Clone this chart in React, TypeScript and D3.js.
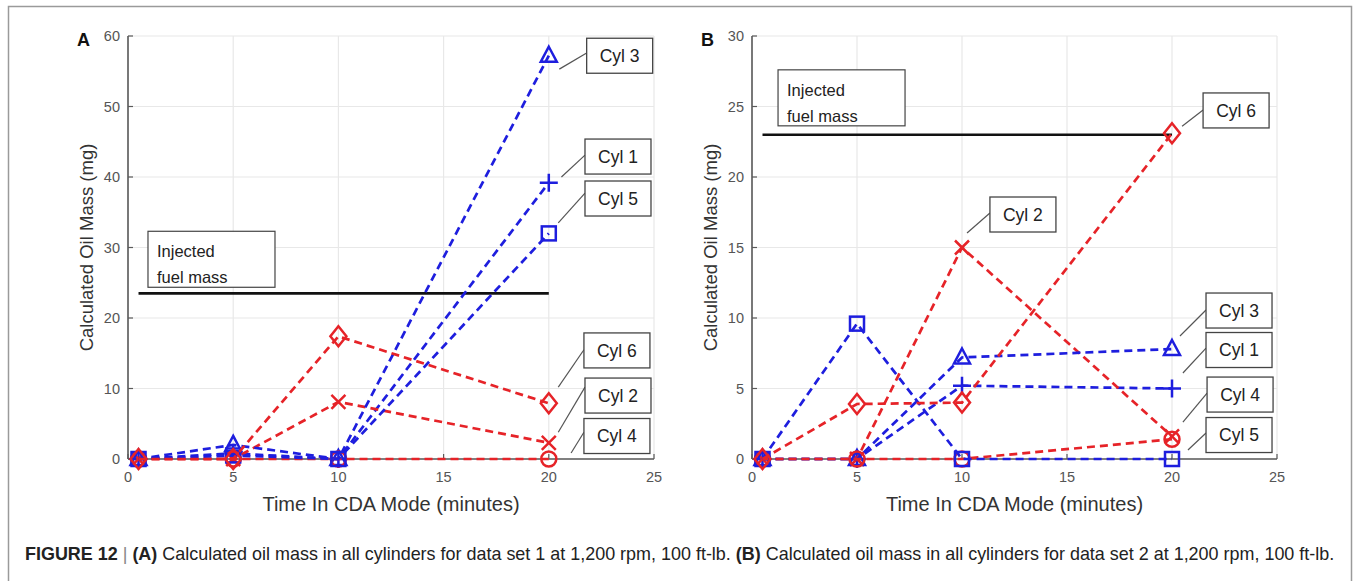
import React, { useLayoutEffect, useRef, useState } from 'react';
import * as d3 from 'd3';

// ---------- data ----------
const times = [0.5, 5, 10, 20];
const cylNames = ['Cyl 1', 'Cyl 2', 'Cyl 3', 'Cyl 4', 'Cyl 5', 'Cyl 6'];

// Data set 1 (panel A)
const setA_cyl1 = [0, 0.8, 0, 39.2];
const setA_cyl2 = [0, 0, 8.1, 2.3];
const setA_cyl3 = [0, 2.0, 0, 57.2];
const setA_cyl4 = [0, 0, 0, 0];
const setA_cyl5 = [0, 0.5, 0, 32.0];
const setA_cyl6 = [0, 0, 17.4, 7.9];

// Data set 2 (panel B)
const setB_cyl1 = [0, 0, 5.2, 5.0];
const setB_cyl2 = [0, 0, 15.0, 1.6];
const setB_cyl3 = [0, 0, 7.2, 7.8];
const setB_cyl4 = [0, 0, 0, 1.4];
const setB_cyl5 = [0, 9.6, 0, 0];
const setB_cyl6 = [0, 3.9, 4.0, 23.1];

const injectedA = 23.5;
const injectedB = 23.0;

const xTicks = [0, 5, 10, 15, 20, 25];
const yTicksA = [0, 10, 20, 30, 40, 50, 60];
const yTicksB = [0, 5, 10, 15, 20, 25, 30];

const xLabel = 'Time In CDA Mode (minutes)';
const yLabel = 'Calculated Oil Mass (mg)';

// ---------- styles ----------
const BLUE = '#1e1ede';
const RED = '#e62328';
const markerOf = ['plus', 'x', 'triangle', 'circle', 'square', 'diamond'];
const colorOf = [BLUE, RED, BLUE, RED, BLUE, RED];

// annotation placement (data units): box left x, box centre y, leader start (x,y), leader end y at box left
const labelsA = [
  { name: 'Cyl 3', bx: 21.8, by: 57.2, lx: 20.5, ly: 55.3, ey: 57.6 },
  { name: 'Cyl 1', bx: 21.72, by: 42.9, lx: 20.6, ly: 40.0, ey: 43.1 },
  { name: 'Cyl 5', bx: 21.72, by: 36.95, lx: 20.45, ly: 33.5, ey: 37.7 },
  { name: 'Cyl 6', bx: 21.67, by: 15.4, lx: 20.45, ly: 10.2, ey: 15.5 },
  { name: 'Cyl 2', bx: 21.72, by: 9.0, lx: 20.45, ly: 3.8, ey: 10.2 },
  { name: 'Cyl 4', bx: 21.67, by: 3.26, lx: 21.06, ly: 0.85, ey: 3.8 },
];
const labelsB = [
  { name: 'Cyl 6', bx: 21.48, by: 24.72, lx: 20.48, ly: 23.6, ey: 24.75 },
  { name: 'Cyl 2', bx: 11.33, by: 17.34, lx: 10.24, ly: 16.03, ey: 17.45 },
  { name: 'Cyl 3', bx: 21.62, by: 10.53, lx: 20.38, ly: 8.72, ey: 10.57 },
  { name: 'Cyl 1', bx: 21.62, by: 7.73, lx: 20.52, ly: 6.1, ey: 7.87 },
  { name: 'Cyl 4', bx: 21.67, by: 4.57, lx: 20.52, ly: 2.62, ey: 4.68 },
  { name: 'Cyl 5', bx: 21.62, by: 1.7, lx: 20.76, ly: 0.64, ey: 1.84 },
];

const FONT = "'Liberation Sans', Arial, Helvetica, sans-serif";

function Marker({ type, cx, cy, color }: { type: string; cx: number; cy: number; color: string }) {
  const sw = 2.5;
  const common = { fill: 'none', stroke: color, strokeWidth: sw };
  switch (type) {
    case 'plus':
      return <path d={`M${cx - 9},${cy}H${cx + 9}M${cx},${cy - 9}V${cy + 9}`} {...common} />;
    case 'x':
      return <path d={`M${cx - 7},${cy - 7}L${cx + 7},${cy + 7}M${cx - 7},${cy + 7}L${cx + 7},${cy - 7}`} {...common} />;
    case 'triangle':
      return <path d={`M${cx},${cy - 9}L${cx + 8},${cy + 6}L${cx - 8},${cy + 6}Z`} {...common} />;
    case 'square':
      return <rect x={cx - 7} y={cy - 7} width={14} height={14} {...common} />;
    case 'diamond':
      return <path d={`M${cx},${cy - 10}L${cx + 8},${cy}L${cx},${cy + 10}L${cx - 8},${cy}Z`} {...common} />;
    default:
      return <circle cx={cx} cy={cy} r={7.5} {...common} />;
  }
}

type PanelProps = {
  letter: string;
  x0: number;
  x1: number;
  yMax: number;
  yTicks: number[];
  series: number[][];
  injected: number;
  injBox: { x: number; y: number };
  labels: typeof labelsA;
};

function Panel({ letter, x0, x1, yMax, yTicks, series, injected, injBox, labels }: PanelProps) {
  const xs = d3.scaleLinear().domain([0, 25]).range([x0, x1]);
  const ys = d3.scaleLinear().domain([0, yMax]).range([459, 36]);
  const line = d3
    .line<number>()
    .x((_, i) => xs(times[i]))
    .y((d) => ys(d));
  const gridC = '#e8e8e8';
  const axisC = '#5a5a5a';
  const order = [0, 1, 2, 3, 4, 5];
  return (
    <g>
      {/* grid */}
      {xTicks.map((t) => (
        <line key={'gx' + t} x1={xs(t)} x2={xs(t)} y1={ys(yMax)} y2={ys(0)} stroke={gridC} strokeWidth={1.2} />
      ))}
      {yTicks.map((t) => (
        <line key={'gy' + t} x1={xs(0)} x2={xs(25)} y1={ys(t)} y2={ys(t)} stroke={gridC} strokeWidth={1.2} />
      ))}
      {/* axes */}
      <line x1={xs(0)} x2={xs(0)} y1={ys(yMax)} y2={ys(0)} stroke={axisC} strokeWidth={1.6} />
      <line x1={xs(0)} x2={xs(25)} y1={ys(0)} y2={ys(0)} stroke={axisC} strokeWidth={1.6} />
      {yTicks.map((t) => (
        <g key={'ty' + t}>
          <line x1={xs(0)} x2={xs(0) + 5} y1={ys(t)} y2={ys(t)} stroke={axisC} strokeWidth={1.2} />
          <text x={xs(0) - 8} y={ys(t)} dy="0.35em" textAnchor="end" fontSize={14.5} fill="#555" fontFamily={FONT}>
            {t}
          </text>
        </g>
      ))}
      {xTicks.map((t) => (
        <g key={'tx' + t}>
          <line x1={xs(t)} x2={xs(t)} y1={ys(0)} y2={ys(0) - 5} stroke={axisC} strokeWidth={1.2} />
          <text x={xs(t)} y={482} textAnchor="middle" fontSize={14.5} fill="#555" fontFamily={FONT}>
            {t}
          </text>
        </g>
      ))}
      <text x={(xs(0) + xs(25)) / 2} y={511} textAnchor="middle" fontSize={20} fill="#333" fontFamily={FONT}>
        {xLabel}
      </text>
      <text
        transform={`translate(${xs(0) - 35},${(ys(0) + ys(yMax)) / 2}) rotate(-90)`}
        textAnchor="middle"
        fontSize={18.5}
        fill="#333"
        fontFamily={FONT}
      >
        {yLabel}
      </text>
      <text x={xs(0) - 51} y={46} fontSize={18} fontWeight="bold" fill="#111" fontFamily={FONT}>
        {letter}
      </text>
      {/* injected fuel mass */}
      <line x1={xs(times[0])} x2={xs(times[3])} y1={ys(injected)} y2={ys(injected)} stroke="#111" strokeWidth={2.6} />
      <rect x={xs(injBox.x)} y={ys(injBox.y)} width={127} height={56} fill="white" stroke="#444" strokeWidth={1.2} />
      <text x={xs(injBox.x) + 9} y={ys(injBox.y) + 26} fontSize={16.5} fill="#222" fontFamily={FONT}>
        Injected
      </text>
      <text x={xs(injBox.x) + 9} y={ys(injBox.y) + 52} fontSize={16.5} fill="#222" fontFamily={FONT}>
        fuel mass
      </text>
      {/* series */}
      {order.map((i) => (
        <g key={'s' + i}>
          <path d={line(series[i]) || ''} fill="none" stroke={colorOf[i]} strokeWidth={2.7} strokeDasharray="8 5" />
          {series[i].map((v, j) => (
            <Marker key={j} type={markerOf[i]} cx={xs(times[j])} cy={ys(v)} color={colorOf[i]} />
          ))}
        </g>
      ))}
      {/* annotations */}
      {labels.map((l) => (
        <g key={l.name}>
          <line x1={xs(l.lx)} y1={ys(l.ly)} x2={xs(l.bx)} y2={ys(l.ey)} stroke="#555" strokeWidth={1.2} />
          <rect x={xs(l.bx)} y={ys(l.by) - 17.5} width={66} height={35} fill="white" stroke="#444" strokeWidth={1.3} />
          <text x={xs(l.bx) + 33} y={ys(l.by)} dy="0.36em" textAnchor="middle" fontSize={17.5} fill="#222" fontFamily={FONT}>
            {l.name}
          </text>
        </g>
      ))}
    </g>
  );
}

export default function App() {
  const capRef = useRef<SVGTextElement>(null);
  const [capScale, setCapScale] = useState(1);
  useLayoutEffect(() => {
    if (capRef.current) {
      const w = capRef.current.getComputedTextLength();
      if (w > 0) setCapScale(1310 / w);
    }
  }, []);
  const seriesA = [setA_cyl1, setA_cyl2, setA_cyl3, setA_cyl4, setA_cyl5, setA_cyl6];
  const seriesB = [setB_cyl1, setB_cyl2, setB_cyl3, setB_cyl4, setB_cyl5, setB_cyl6];
  return (
    <svg
      width={1356}
      height={581}
      style={{ position: 'absolute', left: 0, top: 0, background: 'white' }}
      data-names={cylNames.join(',')}
    >
      <rect x={8.5} y={6.5} width={1343} height={620} fill="white" stroke="#9a9a9a" strokeWidth={1.5} />
      <Panel
        letter="A"
        x0={128}
        x1={654}
        yMax={60}
        yTicks={yTicksA}
        series={seriesA}
        injected={injectedA}
        injBox={{ x: 0.95, y: 32.3 }}
        labels={labelsA}
      />
      <Panel
        letter="B"
        x0={752}
        x1={1277}
        yMax={30}
        yTicks={yTicksB}
        series={seriesB}
        injected={injectedB}
        injBox={{ x: 1.24, y: 27.6 }}
        labels={labelsB}
      />
      <g transform={`translate(25,560) scale(${capScale},1)`}>
        <text ref={capRef} x={0} y={0} fontSize={17.5} fill="#222" fontFamily={FONT}>
          <tspan fontWeight="bold">FIGURE 12</tspan>
          <tspan fill="#888"> | </tspan>
          <tspan fontWeight="bold">(A)</tspan>
          <tspan> Calculated oil mass in all cylinders for data set 1 at 1,200 rpm, 100 ft-lb. </tspan>
          <tspan fontWeight="bold">(B)</tspan>
          <tspan> Calculated oil mass in all cylinders for data set 2 at 1,200 rpm, 100 ft-lb.</tspan>
        </text>
      </g>
    </svg>
  );
}
